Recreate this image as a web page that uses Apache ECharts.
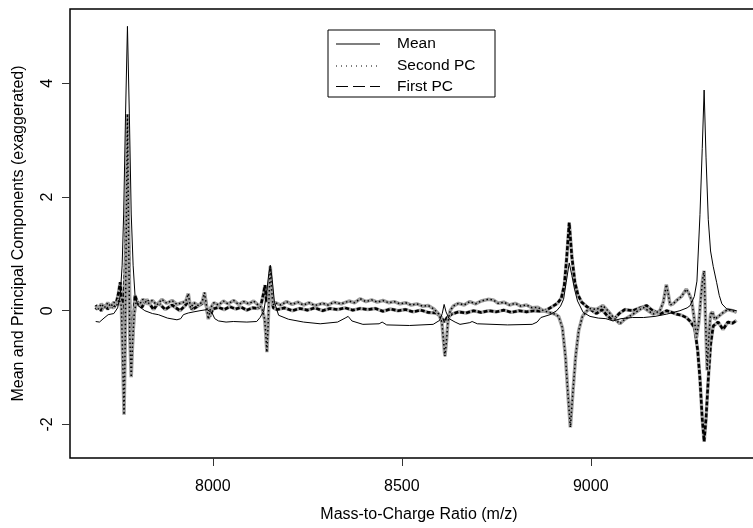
<!DOCTYPE html>
<html>
<head>
<meta charset="utf-8">
<script src="https://cdn.jsdelivr.net/npm/echarts@6/dist/echarts.min.js"></script>
<style>
html,body{margin:0;padding:0;background:#fff;overflow:hidden;width:753px;height:528px;}
#c{width:790px;height:528px;}
</style>
</head>
<body>
<div id="c"></div>
<script>
// ---- data (m/z and values) ----
const xTicks = [8000, 8500, 9000];
const yTicks = [-2, 0, 2, 4];

const meanMz = [7690,7700,7712,7723,7738,7748,7755,7760,7764,7769,7774,7779,7784,7789,7794,7802,7820,7840,7856,7880,7905,7915,7922,7935,7950,7966,7985,7998,8005,8015,8035,8054,8090,8116,8125,8135,8142,8148,8152,8157,8163,8174,8200,8240,8284,8330,8350,8358,8368,8397,8440,8448,8460,8520,8583,8600,8607,8612,8617,8625,8641,8654,8680,8686,8700,8780,8845,8858,8868,8892,8910,8920,8928,8935,8943,8950,8957,8965,8980,8998,9020,9040,9059,9080,9110,9140,9170,9201,9236,9255,9263,9274,9281,9289,9295,9300,9305,9311,9317,9324,9333,9340,9347,9360,9386];
const meanVal = [-0.19,-0.2,-0.13,-0.07,-0.05,0.05,0.27,0.8,1.7,3.46,5.0,3.46,1.7,0.8,0.27,0.09,0.0,-0.05,-0.07,-0.13,-0.16,-0.14,-0.07,-0.04,-0.02,0.0,0.02,-0.04,-0.14,-0.18,-0.2,-0.19,-0.2,-0.19,-0.12,0.0,0.3,0.65,0.8,0.55,0.15,-0.08,-0.15,-0.2,-0.23,-0.2,-0.13,-0.1,-0.18,-0.24,-0.23,-0.2,-0.25,-0.26,-0.24,-0.17,-0.05,0.11,-0.02,-0.14,-0.2,-0.24,-0.21,-0.19,-0.23,-0.25,-0.24,-0.2,-0.12,-0.07,0.0,0.08,0.2,0.5,0.84,0.62,0.38,0.17,-0.03,-0.1,-0.13,-0.14,-0.18,-0.14,-0.12,-0.12,-0.1,-0.06,0.0,0.05,0.09,0.25,0.52,1.69,2.85,3.88,2.7,1.6,1.05,0.78,0.5,0.27,0.12,0.03,0.0];

const pc2Mz = [7690,7697,7705,7713,7722,7730,7738,7746,7752,7758,7762,7765,7768,7771,7774,7777,7780,7784,7788,7792,7797,7805,7815,7828,7840,7852,7865,7878,7892,7905,7918,7928,7935,7941,7950,7962,7972,7978,7984,7988,7994,8003,8015,8028,8040,8055,8068,8082,8095,8108,8120,8130,8137,8140,8143,8146,8149,8152,8155,8159,8165,8180,8195,8210,8225,8240,8255,8270,8290,8305,8320,8340,8360,8375,8390,8405,8420,8435,8450,8465,8480,8495,8510,8525,8540,8555,8570,8585,8598,8606,8610,8614,8618,8622,8628,8636,8650,8665,8680,8695,8710,8728,8742,8755,8770,8785,8800,8815,8830,8845,8860,8875,8890,8905,8915,8925,8933,8940,8946,8952,8960,8968,8978,8990,9000,9015,9032,9045,9060,9077,9090,9112,9125,9139,9152,9165,9183,9192,9200,9205,9210,9218,9227,9240,9253,9260,9267,9273,9280,9286,9291,9296,9300,9303,9308,9312,9317,9322,9328,9338,9349,9362,9375,9386];
const pc2Val = [0.1,0.03,0.12,0.05,0.14,0.07,0.15,0.1,0.2,0.08,-1.0,-1.83,-0.6,1.5,3.46,1.4,-0.4,-1.17,-0.5,-0.05,0.15,0.1,0.2,0.12,0.18,0.1,0.2,0.13,0.18,0.11,0.14,0.16,0.3,0.05,0.14,0.09,0.16,0.32,0.05,-0.15,0.05,0.14,0.1,0.17,0.12,0.18,0.11,0.16,0.12,0.17,0.1,0.05,-0.15,-0.4,-0.73,-0.3,0.3,0.78,0.4,0.1,0.14,0.1,0.16,0.11,0.15,0.1,0.14,0.09,0.13,0.1,0.15,0.12,0.17,0.14,0.21,0.16,0.19,0.15,0.18,0.14,0.16,0.12,0.14,0.1,0.12,0.08,0.09,0.03,-0.06,-0.2,-0.5,-0.8,-0.55,-0.2,0.0,0.08,0.13,0.1,0.16,0.12,0.17,0.2,0.19,0.13,0.15,0.1,0.13,0.08,0.1,0.05,0.06,0.0,-0.03,-0.06,-0.1,-0.3,-0.8,-1.5,-2.05,-1.5,-0.8,-0.35,-0.1,0.0,0.04,0.02,0.09,0.0,-0.12,-0.23,-0.15,-0.06,0.0,0.06,0.0,-0.06,0.0,0.15,0.46,0.3,0.1,0.12,0.18,0.25,0.38,0.3,0.18,-0.1,-0.47,-0.2,0.2,0.55,0.7,0.0,-1.05,-0.5,-0.06,-0.02,-0.15,-0.1,-0.04,0.02,0.0,-0.03];

const pc1Mz = [7690,7697,7705,7713,7722,7730,7738,7745,7750,7755,7759,7763,7768,7773,7778,7782,7786,7790,7794,7800,7812,7825,7843,7856,7874,7892,7913,7928,7936,7945,7960,7975,7980,7986,7992,8000,8015,8030,8045,8060,8075,8090,8105,8120,8128,8134,8138,8142,8146,8151,8155,8160,8170,8190,8210,8230,8250,8270,8290,8310,8330,8350,8370,8390,8410,8430,8450,8470,8490,8510,8530,8550,8570,8590,8603,8612,8620,8632,8650,8670,8690,8710,8730,8750,8770,8790,8810,8830,8850,8870,8885,8900,8912,8922,8930,8936,8943,8950,8958,8966,8976,8988,9000,9015,9030,9045,9060,9075,9090,9112,9130,9148,9160,9183,9201,9215,9227,9240,9253,9265,9275,9283,9289,9295,9300,9305,9311,9317,9324,9337,9350,9363,9375,9386];
const pc1Val = [0.02,0.08,0.0,0.1,0.03,0.08,0.05,0.15,0.3,0.5,0.15,-0.35,0.8,2.55,1.0,-0.5,-0.7,-0.2,0.27,0.15,0.06,0.2,0.02,0.14,0.02,0.1,0.0,0.1,0.18,0.02,0.08,0.14,0.2,-0.05,-0.1,0.03,0.06,0.02,0.07,0.03,0.06,0.01,0.05,0.04,0.12,0.3,0.45,0.15,0.2,0.6,0.25,0.05,0.02,0.05,0.0,0.04,0.01,0.05,0.0,0.04,0.02,0.05,0.01,0.04,0.02,0.04,-0.01,0.03,0.0,0.02,-0.02,0.01,-0.03,-0.04,-0.1,-0.2,-0.12,-0.06,-0.02,-0.04,0.0,-0.03,0.0,-0.02,0.01,-0.03,0.0,-0.02,0.0,-0.01,0.02,0.08,0.13,0.22,0.45,0.9,1.55,0.95,0.5,0.28,0.15,0.08,0.02,-0.05,0.02,-0.1,-0.16,-0.05,0.02,0.0,0.05,0.09,0.02,-0.06,0.0,-0.03,-0.06,-0.08,-0.12,-0.2,-0.31,-0.7,-1.2,-1.9,-2.3,-1.9,-1.2,-0.6,-0.27,-0.2,-0.33,-0.2,-0.22,-0.17];

const legendNames = ['Mean', 'Second PC', 'First PC'];

function zip(a, b) { return a.map((v, i) => [v, b[i]]); }

const FONT = 'Liberation Sans, Arial, Helvetica, sans-serif';
const FS = 16;

const chart = echarts.init(document.getElementById('c'), null, {renderer: 'canvas'});

const legendX = 328, legendY = 30, legendW = 167, legendH = 67;
const rowsY = [44, 66, 86.5];
const legendDash = [null, [1, 4], [12, 5]];
const graphics = [{
  type: 'rect', shape: {x: legendX, y: legendY, width: legendW, height: legendH},
  style: {fill: '#fff', stroke: '#000', lineWidth: 1}, z: 100
}];
legendNames.forEach((n, i) => {
  graphics.push({
    type: 'line', shape: {x1: 336, y1: rowsY[i], x2: 380, y2: rowsY[i]},
    style: {stroke: '#000', lineWidth: 1.1, lineDash: legendDash[i] || null}, z: 101
  });
  graphics.push({
    type: 'text', x: 397, y: rowsY[i],
    style: {text: n, font: (FS - 0.5) + 'px ' + FONT, fill: '#000', verticalAlign: 'middle', align: 'left'}, z: 101
  });
});

const option = {
  animation: false,
  backgroundColor: '#fff',
  grid: {left: 70, top: 9, width: 698, height: 453, show: true, borderColor: '#000', borderWidth: 1.5, backgroundColor: 'transparent'},
  xAxis: {
    type: 'value', min: 7622, max: 9469, position: 'bottom',
    name: 'Mass-to-Charge Ratio (m/z)', nameLocation: 'middle', nameGap: 49,
    nameTextStyle: {fontSize: FS, fontFamily: FONT, color: '#000'},
    axisLine: {show: false, onZero: false},
    splitLine: {show: false},
    axisTick: {show: true, length: 8, customValues: xTicks, lineStyle: {color: '#333', width: 1}},
    axisLabel: {customValues: xTicks, margin: 21, fontSize: FS, fontFamily: FONT, color: '#000',
                formatter: v => String(v)}
  },
  yAxis: {
    type: 'value', min: -2.59, max: 5.305, position: 'left',
    name: 'Mean and Principal Components (exaggerated)', nameLocation: 'middle', nameGap: 43, nameRotate: 90,
    nameTextStyle: {fontSize: FS, fontFamily: FONT, color: '#000'},
    axisLine: {show: false, onZero: false},
    splitLine: {show: false},
    axisTick: {show: true, length: 8, customValues: yTicks, lineStyle: {color: '#333', width: 1}},
    axisLabel: {customValues: yTicks, rotate: 90, margin: 14, fontSize: FS, fontFamily: FONT, color: '#000',
                formatter: v => String(v)}
  },
  series: [
    {type: 'line', data: zip(pc1Mz, pc1Val), symbol: 'none', silent: true,
     lineStyle: {color: '#a8a8a8', width: 3.5}},
    {type: 'line', data: zip(pc1Mz, pc1Val), symbol: 'none', silent: true,
     lineStyle: {color: '#000', width: 2.6, type: [4, 2]}},
    {type: 'line', data: zip(pc2Mz, pc2Val), symbol: 'none', silent: true,
     lineStyle: {color: '#a0a0a0', width: 3.5}},
    {type: 'line', data: zip(pc2Mz, pc2Val), symbol: 'none', silent: true,
     lineStyle: {color: '#000', width: 1.5, type: [1.5, 2.5]}},
    {type: 'line', data: zip(meanMz, meanVal), symbol: 'none', silent: true,
     lineStyle: {color: '#000', width: 1}}
  ],
  graphic: graphics
};
chart.setOption(option);
</script>
</body>
</html>
